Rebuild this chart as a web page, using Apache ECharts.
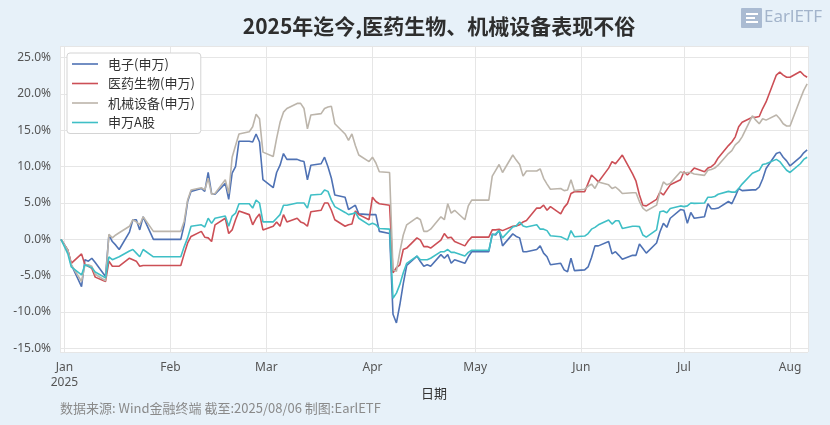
<!DOCTYPE html>
<html>
<head>
<meta charset="utf-8">
<script src="https://cdn.jsdelivr.net/npm/echarts@6/dist/echarts.min.js"></script>
<style>
html,body{margin:0;padding:0;background:#e7f1f9;}
#chart{width:830px;height:425px;}
</style>
</head>
<body>
<div id="chart"></div>
<script>
// ---- data (cumulative return %) ----
const dates = [
  '2024-12-31',
  '2025-01-02','2025-01-03','2025-01-06','2025-01-07','2025-01-08','2025-01-09','2025-01-10',
  '2025-01-13','2025-01-14','2025-01-15','2025-01-16','2025-01-17',
  '2025-01-20','2025-01-21','2025-01-22','2025-01-23','2025-01-24','2025-01-27',
  '2025-02-04',
  '2025-02-05','2025-02-06','2025-02-07','2025-02-10','2025-02-11','2025-02-12','2025-02-13','2025-02-14',
  '2025-02-17','2025-02-18','2025-02-19','2025-02-20','2025-02-21',
  '2025-02-24','2025-02-25','2025-02-26','2025-02-27','2025-02-28',
  '2025-03-03','2025-03-04','2025-03-05','2025-03-06','2025-03-07',
  '2025-03-10','2025-03-11','2025-03-12','2025-03-13','2025-03-14',
  '2025-03-17','2025-03-18','2025-03-19','2025-03-20','2025-03-21',
  '2025-03-24','2025-03-25','2025-03-26','2025-03-27','2025-03-28','2025-03-31',
  '2025-04-01','2025-04-02','2025-04-03','2025-04-06',
  '2025-04-07','2025-04-08','2025-04-09','2025-04-10','2025-04-11',
  '2025-04-14','2025-04-15','2025-04-16','2025-04-17','2025-04-18',
  '2025-04-21','2025-04-22','2025-04-23','2025-04-24','2025-04-25',
  '2025-04-28','2025-04-29','2025-04-30',
  '2025-05-05','2025-05-06','2025-05-07','2025-05-08','2025-05-09',
  '2025-05-12','2025-05-13','2025-05-14','2025-05-15','2025-05-16',
  '2025-05-19','2025-05-20','2025-05-21','2025-05-22','2025-05-23',
  '2025-05-26','2025-05-27','2025-05-28','2025-05-29','2025-05-30',
  '2025-06-02','2025-06-03','2025-06-04','2025-06-05','2025-06-06',
  '2025-06-09','2025-06-10','2025-06-11','2025-06-12','2025-06-13',
  '2025-06-16','2025-06-17','2025-06-18','2025-06-19','2025-06-20',
  '2025-06-23','2025-06-24','2025-06-25','2025-06-26','2025-06-27','2025-06-30',
  '2025-07-01','2025-07-02','2025-07-03','2025-07-04',
  '2025-07-07','2025-07-08','2025-07-09','2025-07-10','2025-07-11',
  '2025-07-14','2025-07-15','2025-07-16','2025-07-17','2025-07-18',
  '2025-07-21','2025-07-22','2025-07-23','2025-07-24','2025-07-25',
  '2025-07-28','2025-07-29','2025-07-30','2025-07-31',
  '2025-08-01','2025-08-04','2025-08-05','2025-08-06'
];

const dianzi = [
  0,
  -1.5,-3.5,-6.5,-2.8,-3.0,-2.6,-3.2,-5.1,0.6,-0.3,-0.8,-1.4,1.0,2.7,2.7,1.3,3.1,0.0,
  0.0,
  2.0,5.2,6.6,7.0,6.6,9.2,6.3,6.2,7.7,5.5,9.1,10.0,13.5,13.5,13.4,14.5,13.4,8.2,
  7.1,9.2,10.2,11.8,11.0,11.0,10.8,10.7,8.2,10.2,10.4,11.3,10.0,8.4,6.1,5.8,4.1,4.4,4.7,3.5,3.4,
  3.4,3.4,1.1,0.8,-10.3,-11.5,-9.0,-6.1,-3.6,-2.3,-3.05,-3.7,-3.5,-3.7,-2.1,-2.6,-2.1,-3.3,-2.8,-3.3,-2.4,-1.7,
  -1.7,0.75,0.6,1.3,-0.9,0.75,0.4,0.2,-1.7,-1.7,-1.4,-0.9,-1.9,-2.4,-3.5,-3.3,-4.2,-4.45,-2.6,-4.3,
  -4.2,-3.8,-2.5,-0.9,-0.9,-0.3,-2.0,-1.7,-2.2,-2.75,-2.2,-2.2,-0.65,-1.25,-1.9,-0.5,1.05,2.2,1.65,2.9,4.1,
  4.0,2.2,3.7,2.9,3.1,4.9,4.2,4.2,4.3,5.2,4.9,5.9,7.0,6.7,6.8,6.8,7.2,8.3,9.75,11.8,12.0,11.3,10.8,
  10.1,11.3,11.9,12.3
];

const yiyao = [
  0,
  -1.5,-3.3,-2.0,-3.5,-3.7,-4.0,-5.2,-5.8,-3.0,-3.7,-3.7,-3.7,-2.6,-2.8,-3.0,-3.7,-3.6,-3.6,
  -3.6,
  -2.0,-0.5,0.4,1.1,0.3,0.2,-0.3,2.0,2.9,0.8,1.3,2.7,3.9,3.4,2.0,2.9,3.5,1.3,
  1.8,2.4,1.8,3.4,2.4,2.9,2.4,2.2,1.8,3.8,4.0,5.0,5.0,4.0,2.7,1.8,2.0,2.1,3.9,3.4,2.7,
  5.8,5.2,4.9,4.7,-4.6,-3.9,-3.5,-1.4,-1.2,0.2,-0.1,-1.0,-1.0,-1.2,-0.1,0.8,0.2,0.3,-0.3,-0.9,-0.2,0.3,
  0.3,1.3,1.3,1.4,1.2,1.8,1.85,2.0,2.4,2.6,4.3,4.3,4.7,4.0,4.5,3.5,4.4,4.95,6.3,6.55,
  6.55,7.7,8.85,8.4,7.9,9.8,10.7,10.4,11.0,11.6,9.0,8.0,6.1,4.7,4.6,5.5,6.5,6.1,6.8,7.5,8.2,
  9.3,8.85,9.3,9.8,9.3,9.8,10.0,10.4,11.2,12.9,13.4,14.1,15.5,16.1,16.8,16.8,16.9,18.0,18.9,22.6,23.0,22.6,22.3,
  22.3,23.1,22.6,22.3
];

const jixie = [
  0,
  -1.5,-3.5,-5.8,-3.5,-3.5,-3.7,-4.8,-5.7,0.7,0.2,0.6,0.9,1.8,2.7,2.4,2.0,3.1,1.1,
  1.1,
  2.5,5.4,6.8,7.1,6.8,8.4,6.2,6.3,8.2,6.3,11.3,12.9,14.5,14.8,15.5,17.2,16.6,12.0,
  11.4,13.9,16.1,17.5,18.0,18.7,18.7,18.0,15.2,17.1,17.3,18.0,18.2,18.3,15.9,14.5,13.6,14.5,12.9,11.6,10.7,
  11.3,10.5,9.3,9.2,-4.2,-4.4,-1.7,0.6,2.0,3.0,2.7,1.1,1.1,1.4,3.1,2.7,4.9,3.6,4.0,2.7,4.6,5.4,
  5.4,8.7,9.5,10.3,9.2,11.6,10.9,10.3,8.7,9.4,9.4,9.7,8.4,7.6,6.9,7.0,6.7,6.8,8.2,6.7,
  6.9,7.3,7.6,7.0,7.9,7.5,7.0,7.2,6.8,6.3,6.4,6.4,5.2,4.3,3.9,4.7,6.55,7.9,7.5,7.7,9.3,
  9.1,9.2,9.2,9.0,8.8,9.5,9.6,9.8,10.2,11.8,12.2,13.0,13.4,14.1,17.0,16.4,15.9,16.6,16.4,17.1,16.6,15.9,15.6,
  15.6,19.3,20.5,21.4
];

const swA = [
  0,
  -2.0,-3.8,-4.9,-3.5,-3.7,-3.9,-4.5,-5.3,-2.4,-2.8,-2.6,-2.4,-1.6,-1.4,-1.9,-2.4,-1.4,-2.4,
  -2.4,
  -1.0,0.2,1.8,2.0,1.7,2.9,2.2,2.9,3.2,1.8,3.2,3.6,4.9,4.9,4.3,5.4,5.0,2.4,
  2.4,2.9,3.4,4.7,4.7,5.0,5.0,5.0,4.3,6.1,6.2,6.8,6.6,5.4,4.5,3.7,3.4,3.5,3.7,2.9,2.0,
  2.2,2.0,1.5,1.4,-8.1,-7.4,-6.2,-4.6,-3.3,-2.3,-2.8,-2.8,-2.8,-2.6,-1.7,-1.7,-1.4,-1.8,-1.8,-2.3,-1.8,-1.5,
  -1.5,0.6,0.75,1.2,0.2,1.7,1.85,2.4,1.85,1.7,2.0,1.4,1.4,1.2,0.5,0.36,0.13,-0.1,1.2,0.36,
  0.45,0.8,1.4,1.65,2.0,2.65,2.1,2.55,2.55,1.5,1.8,1.8,1.75,0.6,0.3,1.3,3.8,3.9,3.65,4.25,4.6,
  4.5,4.6,5.0,4.95,5.0,5.8,5.8,5.9,6.2,6.6,6.5,6.5,7.0,7.6,9.1,9.3,9.5,10.3,10.4,11.0,10.7,10.1,9.5,
  9.2,10.4,11.0,11.3
];

const seriesNames = ['电子(申万)', '医药生物(申万)', '机械设备(申万)', '申万A股'];
const seriesColors = ['#4f72b4', '#cc4f56', '#bcb5ab', '#3fbfc6'];
const monthNames = ['Jan','Feb','Mar','Apr','May','Jun','Jul','Aug','Sep','Oct','Nov','Dec'];

// ---- chart ----
const pairs = arr => dates.map((d, i) => [d, arr[i]]);
const allValues = [dianzi, yiyao, jixie, swA];
const DAY = 86400000;
const CJK = '"Noto Sans CJK SC", "Noto Sans", sans-serif';

const chart = echarts.init(document.getElementById('chart'), null, {renderer: 'canvas'});
chart.setOption({
  backgroundColor: '#e7f1f9',
  animation: false,
  textStyle: {fontFamily: CJK},
  title: {
    text: '2025年迄今,医药生物、机械设备表现不俗',
    left: 434, top: 11, textAlign: 'center',
    textStyle: {fontSize: 21, fontWeight: 'bold', color: '#2e2e2e', fontFamily: CJK}
  },
  legend: {
    orient: 'vertical',
    left: 67, top: 53,
    data: seriesNames,
    icon: 'path://M0,0 L26,0 L26,1.6 L0,1.6 Z',
    itemWidth: 26, itemHeight: 2,
    itemGap: 3.5,
    padding: [3, 6, 3, 5],
    backgroundColor: '#ffffff',
    borderColor: '#d4d4d4', borderWidth: 1, borderRadius: 3,
    textStyle: {fontSize: 13, color: '#333', fontFamily: CJK, padding: [0, 0, 0, 5], lineHeight: 16}
  },
  grid: {
    left: 60, right: 22, top: 46, bottom: 73,
    show: true, backgroundColor: '#ffffff', borderWidth: 0
  },
  xAxis: {
    type: 'time',
    min: +new Date(2024, 11, 30, 17, 0),
    max: +new Date(2025, 7, 6, 6, 0),
    splitNumber: 7,
    minInterval: 28 * DAY,
    maxInterval: 31 * DAY,
    axisLine: {show: false},
    axisTick: {show: false},
    splitLine: {show: true, lineStyle: {color: '#e6e6e6', width: 1}},
    axisLabel: {
      color: '#555', fontSize: 12, margin: 8, lineHeight: 15,
      fontFamily: '"Noto Sans", sans-serif',
      formatter: function (v) {
        const d = new Date(v);
        const m = d.getMonth();
        return m === 0 ? monthNames[0] + '\n' + d.getFullYear() : monthNames[m];
      }
    },
    name: '日期',
    nameLocation: 'middle',
    nameGap: 35,
    nameMoveOverlap: false,
    nameTextStyle: {fontSize: 13, color: '#333', fontFamily: CJK}
  },
  yAxis: {
    type: 'value',
    min: -15.5, max: 26.6,
    splitNumber: 8,
    axisLine: {show: false},
    axisTick: {show: false},
    splitLine: {show: true, lineStyle: {color: '#e6e6e6', width: 1}},
    axisLabel: {
      color: '#555', fontSize: 12, margin: 9,
      fontFamily: '"Noto Sans", sans-serif',
      formatter: function (v) {
        if (Math.abs(v / 5 - Math.round(v / 5)) > 1e-6) return '';
        return v.toFixed(1) + '%';
      }
    }
  },
  series: seriesNames.map((name, k) => ({
    name: name,
    type: 'line',
    data: pairs(allValues[k]),
    symbol: 'none',
    smooth: false,
    lineStyle: {width: 1.6, color: seriesColors[k]},
    itemStyle: {color: seriesColors[k]},
    z: 3 + k
  })),
  graphic: [
    {
      type: 'text', left: 60, top: 402,
      style: {text: '数据来源: Wind金融终端 截至:2025/08/06 制图:EarlETF', fill: '#8a8a8a', fontSize: 13, fontFamily: CJK}
    },
    {
      type: 'group', left: 741, top: 8,
      children: [
        {type: 'rect', shape: {x: 0, y: 0, width: 21, height: 20, r: 1}, style: {fill: '#aabbd2'}},
        {type: 'rect', shape: {x: 5, y: 5, width: 12, height: 2}, style: {fill: '#ffffff'}},
        {type: 'rect', shape: {x: 5, y: 9, width: 9, height: 2}, style: {fill: '#ffffff'}},
        {type: 'rect', shape: {x: 5, y: 13, width: 12, height: 2}, style: {fill: '#ffffff'}},
        {type: 'text', x: 23, y: 1, style: {text: 'EarlETF', fill: '#a3b4cb', fontSize: 17, fontFamily: '"Noto Sans", sans-serif'}}
      ]
    }
  ]
});
</script>
</body>
</html>
